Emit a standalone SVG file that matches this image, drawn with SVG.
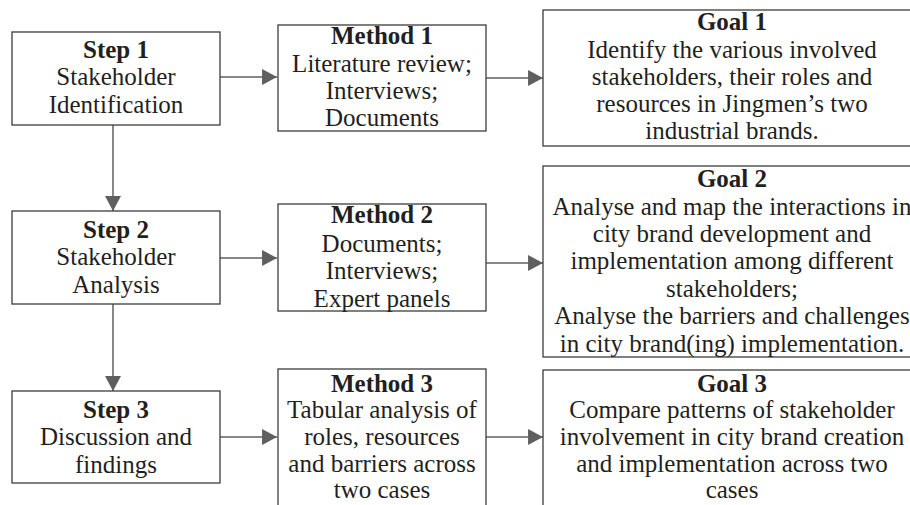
<svg xmlns="http://www.w3.org/2000/svg" width="910" height="505" viewBox="0 0 910 505">
<style>
.box{fill:#fff;stroke:#3c3c3c;stroke-width:1.3}
.t{font-family:"Liberation Serif","Times New Roman",serif;font-size:25px;fill:#231f20;text-anchor:middle}
.b{font-weight:bold}
.con{stroke:#5f5f5f;stroke-width:1.5;fill:none}
</style>
<defs>
<marker id="ah" markerUnits="userSpaceOnUse" markerWidth="16" markerHeight="16" viewBox="0 0 14 15" refX="14" refY="7.5" orient="auto">
<path d="M0,0 L14,7.5 L0,15 Z" fill="#5f5f5f"/>
</marker>
</defs>
<rect width="910" height="505" fill="#fff"/>
<g id="connectors">
<line class="con" x1="220" y1="77" x2="277" y2="77" marker-end="url(#ah)"/>
<line class="con" x1="486" y1="78" x2="543" y2="78" marker-end="url(#ah)"/>
<line class="con" x1="113" y1="125" x2="113" y2="211" marker-end="url(#ah)"/>
<line class="con" x1="220" y1="258" x2="277" y2="258" marker-end="url(#ah)"/>
<line class="con" x1="486" y1="263" x2="543" y2="263" marker-end="url(#ah)"/>
<line class="con" x1="113" y1="304" x2="113" y2="391" marker-end="url(#ah)"/>
<line class="con" x1="220" y1="437" x2="277" y2="437" marker-end="url(#ah)"/>
<line class="con" x1="486" y1="437" x2="543" y2="437" marker-end="url(#ah)"/>
</g>
<g id="step1">
<rect class="box" x="12" y="32" width="208" height="93"/>
<text class="t b" x="116" y="58">Step 1</text>
<text class="t" x="116" y="85">Stakeholder</text>
<text class="t" x="116" y="113">Identification</text>
</g>
<g id="method1">
<rect class="box" x="278" y="25" width="208" height="106"/>
<text class="t b" x="382" y="44">Method 1</text>
<text class="t" x="382" y="72">Literature review;</text>
<text class="t" x="382" y="99">Interviews;</text>
<text class="t" x="382" y="126">Documents</text>
</g>
<g id="goal1">
<rect class="box" x="543" y="10" width="380" height="136"/>
<text class="t b" x="732" y="30">Goal 1</text>
<text class="t" x="732" y="58">Identify the various involved</text>
<text class="t" x="732" y="85">stakeholders, their roles and</text>
<text class="t" x="732" y="112">resources in Jingmen’s two</text>
<text class="t" x="732" y="139">industrial brands.</text>
</g>
<g id="step2">
<rect class="box" x="12" y="211" width="208" height="93"/>
<text class="t b" x="116" y="238">Step 2</text>
<text class="t" x="116" y="265">Stakeholder</text>
<text class="t" x="116" y="293">Analysis</text>
</g>
<g id="method2">
<rect class="box" x="278" y="204" width="208" height="107"/>
<text class="t b" x="382" y="223">Method 2</text>
<text class="t" x="382" y="252">Documents;</text>
<text class="t" x="382" y="279">Interviews;</text>
<text class="t" x="382" y="307">Expert panels</text>
</g>
<g id="goal2">
<rect class="box" x="543" y="166" width="380" height="191"/>
<text class="t b" x="732" y="187">Goal 2</text>
<text class="t" x="732" y="215">Analyse and map the interactions in</text>
<text class="t" x="732" y="242">city brand development and</text>
<text class="t" x="732" y="269">implementation among different</text>
<text class="t" x="732" y="297">stakeholders;</text>
<text class="t" x="732" y="324">Analyse the barriers and challenges</text>
<text class="t" x="732" y="352">in city brand(ing) implementation.</text>
</g>
<g id="step3">
<rect class="box" x="12" y="391" width="208" height="92"/>
<text class="t b" x="116" y="418">Step 3</text>
<text class="t" x="116" y="445">Discussion and</text>
<text class="t" x="116" y="473">findings</text>
</g>
<g id="method3">
<rect class="box" x="278" y="369" width="208" height="150"/>
<text class="t b" x="382" y="392">Method 3</text>
<text class="t" x="382" y="418">Tabular analysis of</text>
<text class="t" x="382" y="445">roles, resources</text>
<text class="t" x="382" y="472">and barriers across</text>
<text class="t" x="382" y="498">two cases</text>
</g>
<g id="goal3">
<rect class="box" x="543" y="370" width="380" height="150"/>
<text class="t b" x="732" y="392">Goal 3</text>
<text class="t" x="732" y="418">Compare patterns of stakeholder</text>
<text class="t" x="732" y="445">involvement in city brand creation</text>
<text class="t" x="732" y="472">and implementation across two</text>
<text class="t" x="732" y="498">cases</text>
</g>
</svg>
